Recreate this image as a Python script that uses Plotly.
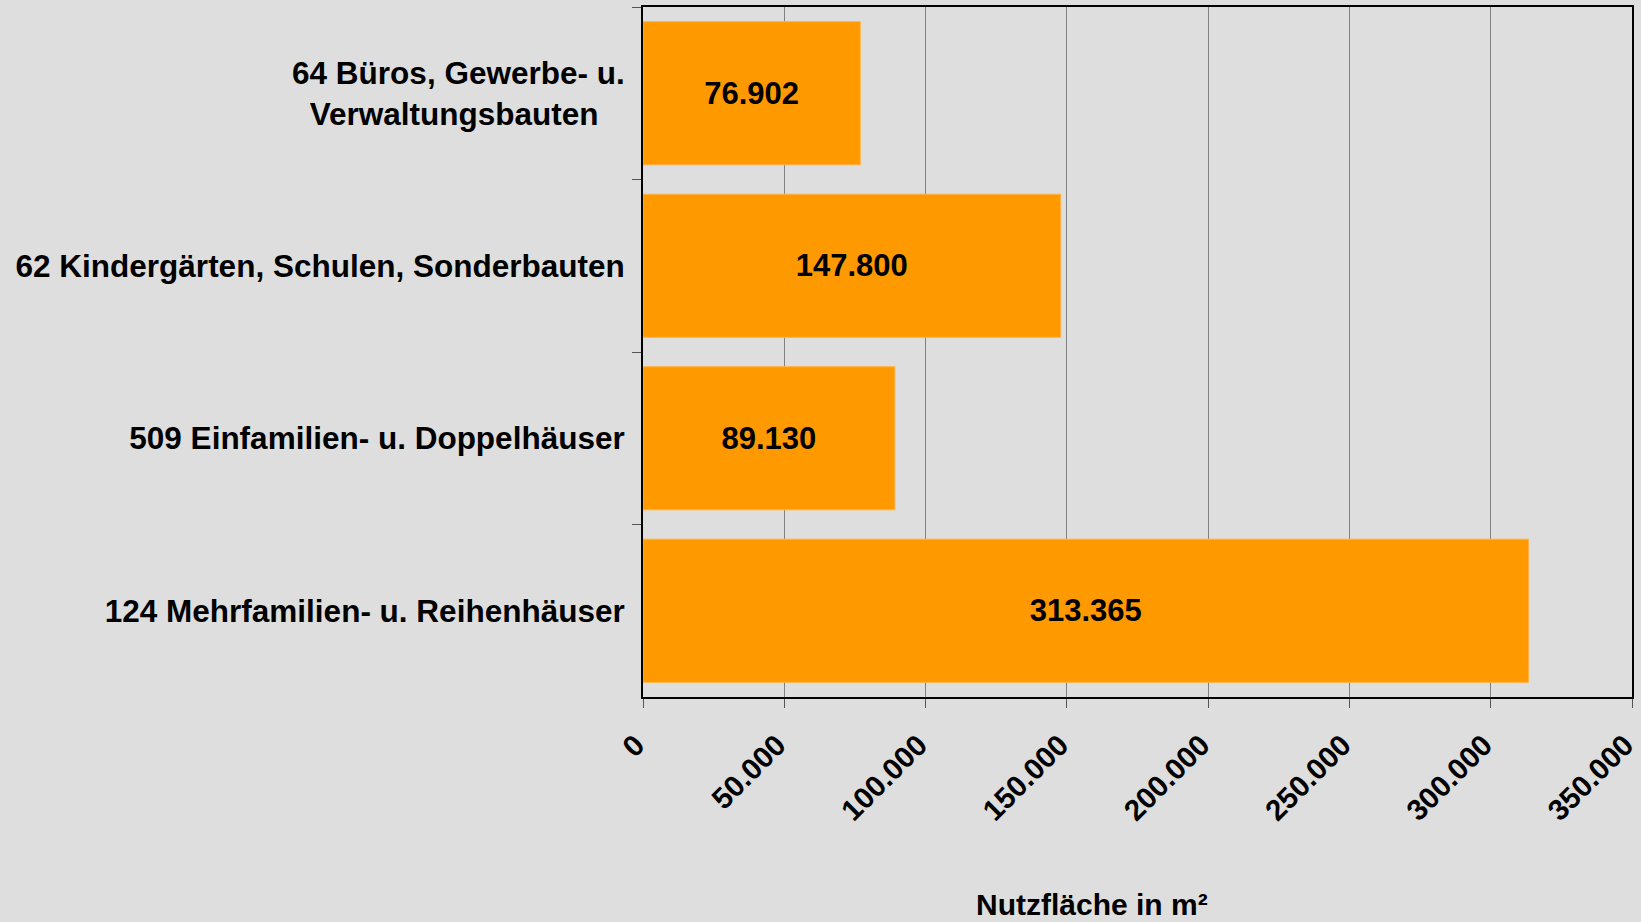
import plotly.graph_objects as go

categories = [
    "64 Büros, Gewerbe- u.<br>Verwaltungsbauten\u00a0\u00a0\u00a0",
    "62 Kindergärten, Schulen, Sonderbauten",
    "509 Einfamilien- u. Doppelhäuser",
    "124 Mehrfamilien- u. Reihenhäuser",
]
values = [76902, 147800, 89130, 313365]
x_ticks = [0, 50000, 100000, 150000, 200000, 250000, 300000, 350000]
x_title = "Nutzfläche in m²"

BG = "#DEDEDE"
BAR = "#FF9900"

fig = go.Figure(
    go.Bar(
        y=categories,
        x=values,
        orientation="h",
        marker=dict(color=BAR, line=dict(color="#FFB347", width=1)),
        texttemplate="%{x:,.0f}",
        textposition="inside",
        insidetextanchor="middle",
        textangle=0,
        textfont=dict(family="Liberation Sans", size=31, color="black", weight="bold"),
        constraintext="none",
        hoverinfo="skip",
    )
)

fig.update_layout(
    width=1641,
    height=922,
    paper_bgcolor=BG,
    plot_bgcolor=BG,
    separators=",.",
    margin=dict(l=643, r=9, t=7, b=225, autoexpand=False),
    bargap=0.17,
    showlegend=False,
    font=dict(family="Liberation Sans", color="black"),
)

fig.update_xaxes(
    range=[0, 350000],
    tickvals=x_ticks,
    tickformat=",.0f",
    tickangle=-45,
    tickfont=dict(family="Liberation Sans", size=29.5, color="black", weight="bold"),
    ticks="outside",
    ticklen=9,
    tickcolor="#555555",
    showgrid=True,
    gridcolor="#808080",
    gridwidth=1,
    showline=True,
    mirror=True,
    linecolor="black",
    linewidth=2,
    zeroline=False,
    automargin=False,
    ticklabeloverflow="allow",
    ticklabelstandoff=8,
    ticklabelshift=-7,
)

fig.update_yaxes(
    autorange="reversed",
    tickfont=dict(family="Liberation Sans", size=31.5, color="black", weight="bold"),
    ticks="outside",
    tickson="boundaries",
    ticklen=9,
    tickcolor="#555555",
    showgrid=False,
    showline=True,
    mirror=True,
    linecolor="black",
    linewidth=2,
    automargin=False,
    ticklabelstandoff=10,
)

fig.add_annotation(
    text=x_title,
    xref="paper",
    yref="paper",
    x=0.454,
    y=-0.301,
    xanchor="center",
    yanchor="middle",
    showarrow=False,
    font=dict(family="Liberation Sans", size=30, color="black", weight="bold"),
)

fig.write_html(
    "out.html",
    config={"displayModeBar": False},
    post_script="document.body.style.margin='0';document.body.style.background='#DEDEDE';",
)
